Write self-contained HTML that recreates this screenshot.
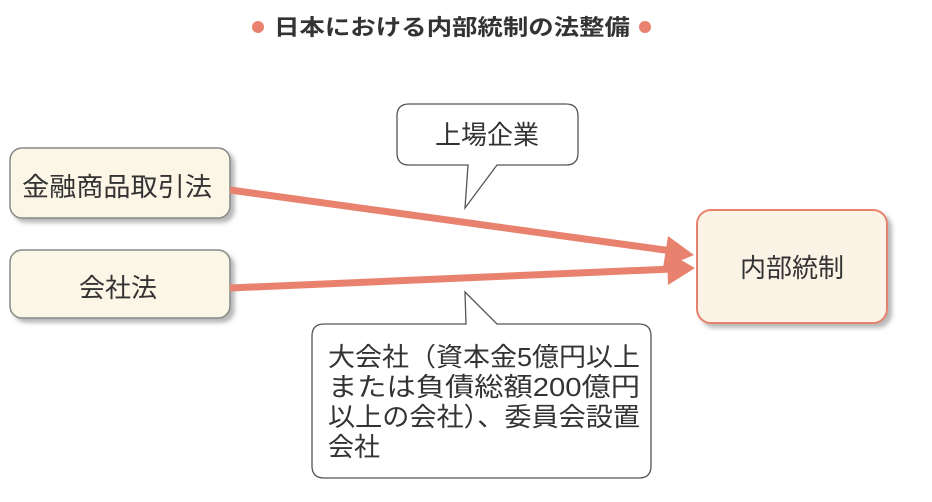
<!DOCTYPE html>
<html><head><meta charset="utf-8"><style>
body{margin:0;width:932px;height:502px;background:#fff;overflow:hidden;font-family:"Liberation Sans","Noto Sans CJK JP",sans-serif;}
</style></head><body>
<svg width="932" height="502" xmlns="http://www.w3.org/2000/svg" style="position:absolute;left:0;top:0">
<defs>
<filter id="sh" x="-10%" y="-10%" width="130%" height="140%"><feDropShadow dx="4" dy="4" stdDeviation="2" flood-color="#888" flood-opacity="0.6"/></filter>
</defs>
<circle cx="258" cy="27" r="6" fill="#e8826e"/>
<text x="274" y="35" font-size="22" font-weight="bold" fill="#333" textLength="356" lengthAdjust="spacingAndGlyphs" font-family="Liberation Sans, Noto Sans CJK JP, sans-serif">日本における内部統制の法整備</text>
<circle cx="645" cy="27" r="6" fill="#e8826e"/>

<rect x="10" y="148" width="220" height="70" rx="12" fill="#fbf6e6" stroke="#888" stroke-width="1.5" filter="url(#sh)"/>
<text x="22" y="196" font-size="26" fill="#333" textLength="190" lengthAdjust="spacingAndGlyphs" font-family="Liberation Sans, Noto Sans CJK JP, sans-serif">金融商品取引法</text>
<rect x="10" y="250" width="220" height="68" rx="12" fill="#fbf6e6" stroke="#888" stroke-width="1.5" filter="url(#sh)"/>
<text x="118" y="297" font-size="26" fill="#333" text-anchor="middle" font-family="Liberation Sans, Noto Sans CJK JP, sans-serif">会社法</text>

<rect x="697" y="210" width="190" height="113" rx="14" fill="#fbf3e6" stroke="#e8826e" stroke-width="2" filter="url(#sh)"/>
<text x="792" y="277" font-size="26" fill="#333" text-anchor="middle" font-family="Liberation Sans, Noto Sans CJK JP, sans-serif">内部統制</text>

<line x1="230" y1="190" x2="672" y2="251" stroke="#e8826e" stroke-width="7"/>
<polygon points="694,255 668,236 663,268" fill="#e8826e"/>
<line x1="230" y1="288" x2="672" y2="269" stroke="#e8826e" stroke-width="7"/>
<polygon points="695,268 667,252 668,285" fill="#e8826e"/>

<path d="M409,104 H566 Q578,104 578,116 V153 Q578,165 566,165 H497 L465,208 L468,165 H409 Q397,165 397,153 V116 Q397,104 409,104 Z" fill="#fff" stroke="#555" stroke-width="1.3"/>
<text x="487" y="144" font-size="26" fill="#333" text-anchor="middle" font-family="Liberation Sans, Noto Sans CJK JP, sans-serif">上場企業</text>

<path d="M324,324 H466 L465,292 L497,324 H639 Q651,324 651,336 V466 Q651,478 639,478 H324 Q312,478 312,466 V336 Q312,324 324,324 Z" fill="#fff" stroke="#555" stroke-width="1.3"/>
<g font-size="26" fill="#333" font-family="Liberation Sans, Noto Sans CJK JP, sans-serif">
<text x="328" y="366" textLength="312" lengthAdjust="spacingAndGlyphs">大会社（資本金5億円以上</text>
<text x="328" y="396" textLength="312" lengthAdjust="spacingAndGlyphs">または負債総額200億円</text>
<text x="328" y="426" textLength="312" lengthAdjust="spacingAndGlyphs">以上の会社）、委員会設置</text>
<text x="328" y="456">会社</text>
</g>
</svg>
</body></html>
